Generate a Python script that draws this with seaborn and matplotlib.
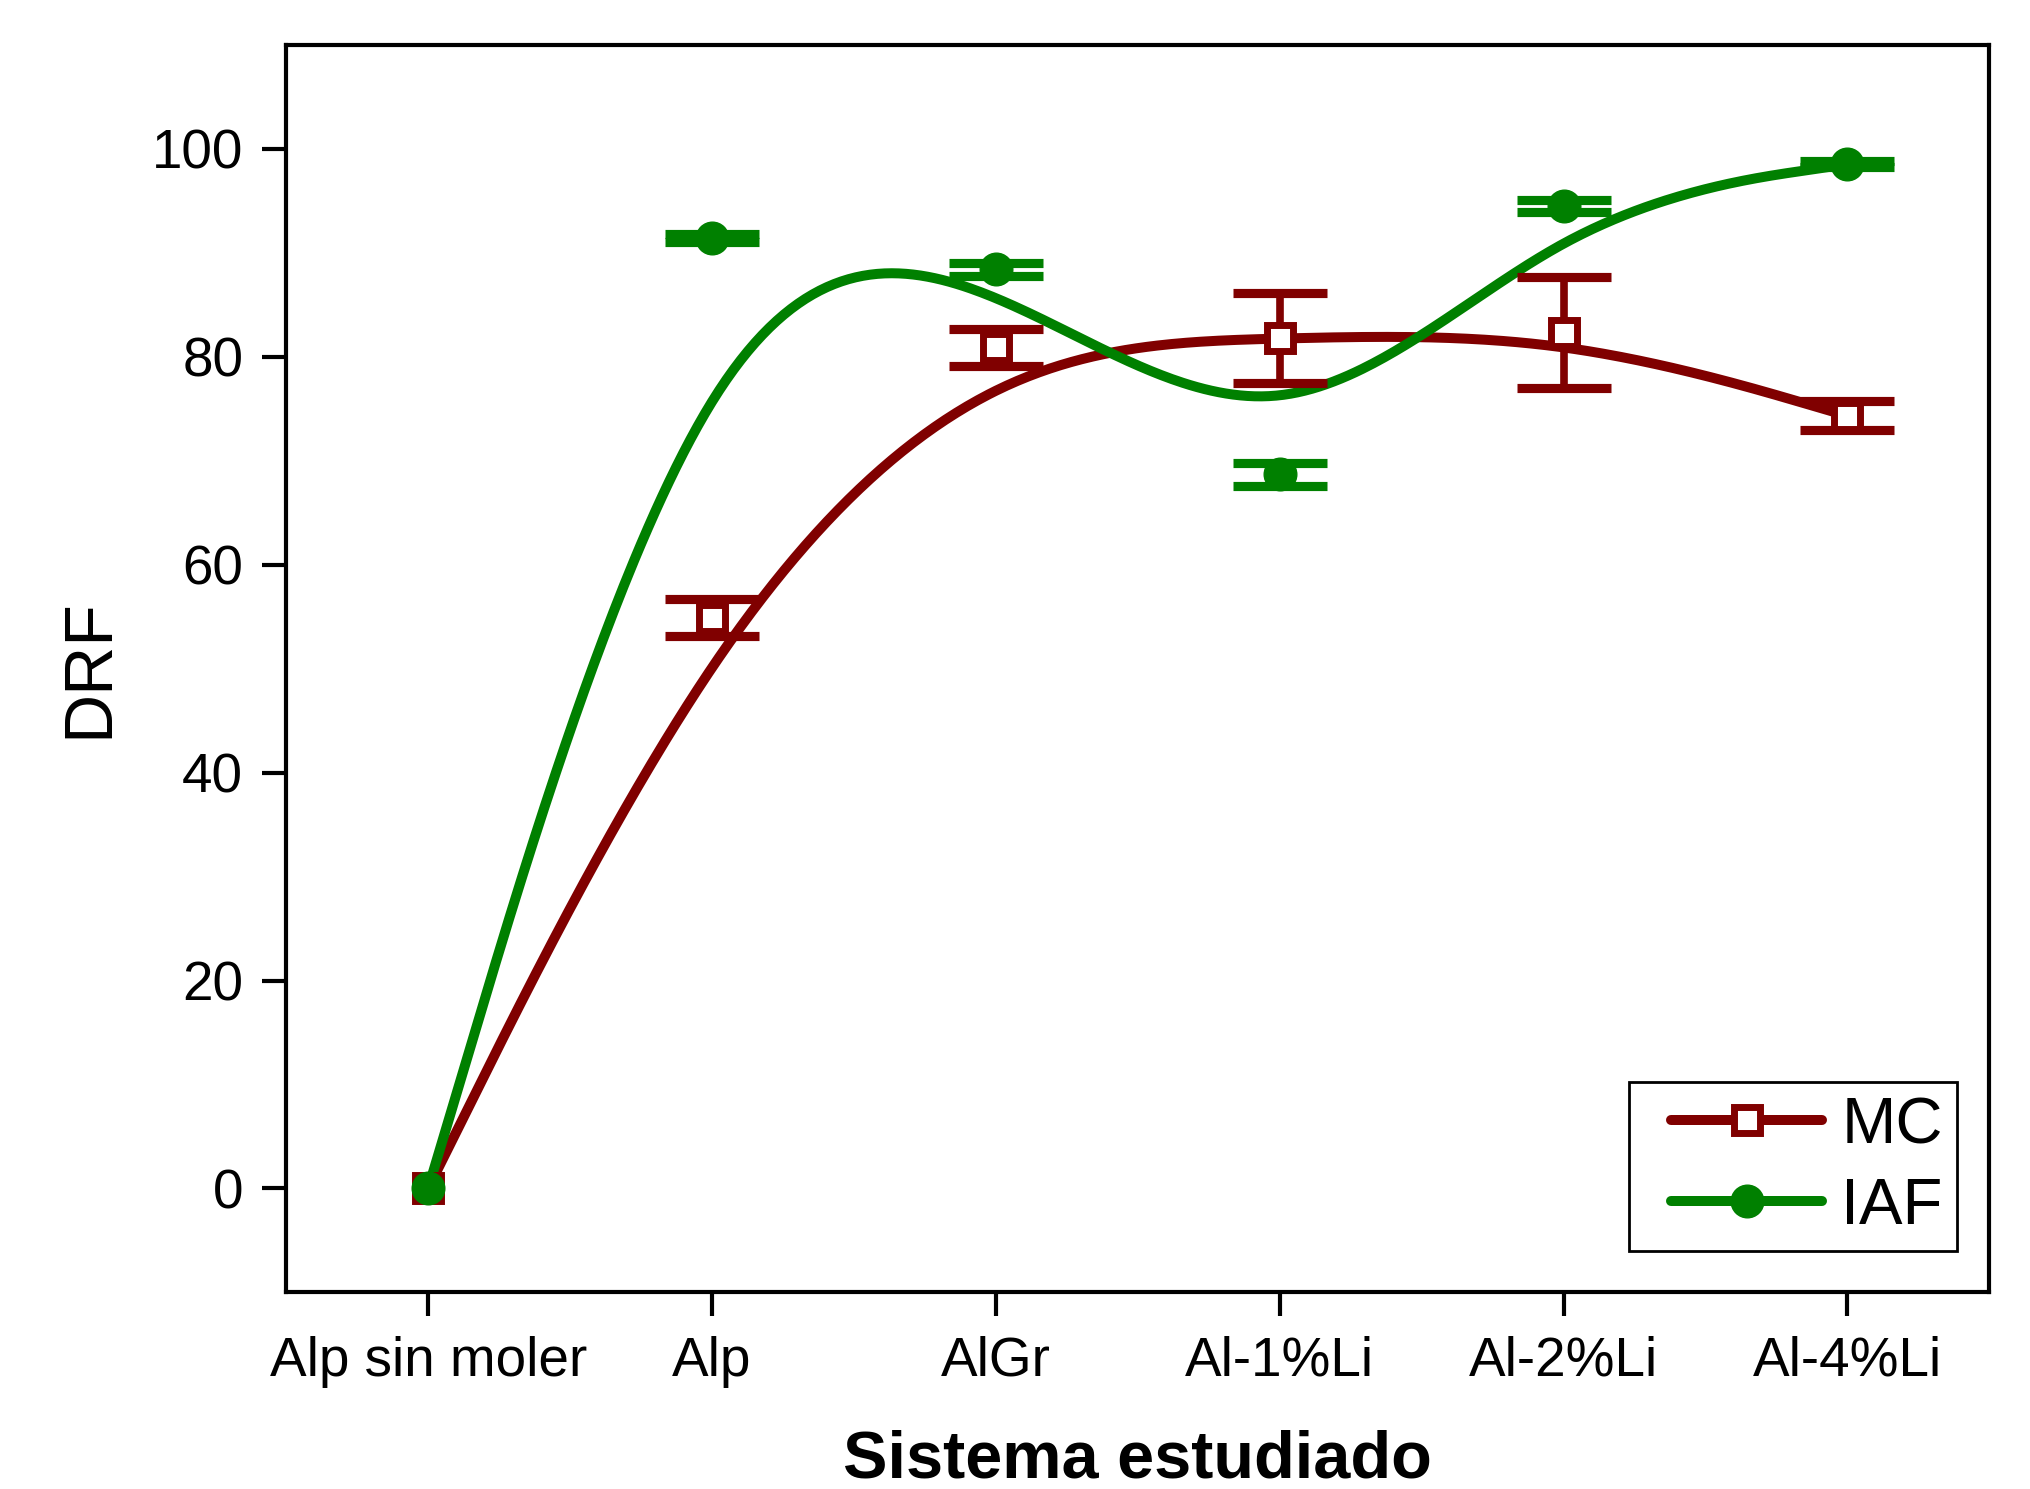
import numpy as np
import pandas as pd
import matplotlib
matplotlib.use("Agg")
import matplotlib.pyplot as plt
import seaborn as sns
from matplotlib.legend_handler import HandlerLine2D

categories = ["Alp sin moler", "Alp", "AlGr", "Al-1%Li", "Al-2%Li", "Al-4%Li"]
mc_values = [0.0, 54.9, 80.9, 81.8, 82.3, 74.3]
mc_errors = [0.0, 1.8, 1.8, 4.35, 5.35, 1.4]
iaf_values = [0.0, 91.4, 88.4, 68.7, 94.5, 98.5]
iaf_errors = [0.0, 0.4, 0.6, 1.1, 0.6, 0.3]
yticks = [0, 20, 40, 60, 80, 100]

RED = "#800000"
GREEN = "#008000"


def bspline(xc, yc, n_per_seg=80):
    """Uniform cubic B-spline with the data points as control points,
    end points tripled so the curve starts and ends on them (Origin B-Spline)."""
    P = np.column_stack([xc, yc]).astype(float)
    Q = np.vstack([P[0], P[0], P, P[-1], P[-1]])
    s = np.linspace(0, 1, n_per_seg)
    b0 = (1 - s) ** 3 / 6
    b1 = (3 * s ** 3 - 6 * s ** 2 + 4) / 6
    b2 = (-3 * s ** 3 + 3 * s ** 2 + 3 * s + 1) / 6
    b3 = s ** 3 / 6
    pts = []
    for j in range(len(Q) - 3):
        seg = (np.outer(b0, Q[j]) + np.outer(b1, Q[j + 1]) +
               np.outer(b2, Q[j + 2]) + np.outer(b3, Q[j + 3]))
        pts.append(seg if j == 0 else seg[1:])
    pts = np.vstack(pts)
    return pts[:, 0], pts[:, 1]


sns.set_theme(style="ticks")
plt.rcParams["font.family"] = ["Liberation Sans", "DejaVu Sans"]
plt.rcParams["text.color"] = "black"
plt.rcParams["axes.labelcolor"] = "black"

fig = plt.figure(figsize=(20.30, 14.89), dpi=100)
ax = fig.add_axes([0.141, 0.132, 0.839, 0.838])

x = np.arange(len(categories))

mx, my = bspline(x, mc_values)
gx, gy = bspline(x, iaf_values)
curves = pd.concat([
    pd.DataFrame({"x": mx, "y": my, "serie": "MC"}),
    pd.DataFrame({"x": gx, "y": gy, "serie": "IAF"}),
])
sns.lineplot(data=curves, x="x", y="y", hue="serie", palette={"MC": RED, "IAF": GREEN},
             sort=False, estimator=None, ax=ax, legend=False, zorder=2)
for ln in ax.lines:
    ln.set_linewidth(7.2)
    ln.set_solid_capstyle("round")

for vals, errs, col in [(mc_values, mc_errors, RED), (iaf_values, iaf_errors, GREEN)]:
    v = np.asarray(vals)
    e = np.asarray(errs)
    mask = e > 0
    ax.errorbar(x[mask], v[mask], yerr=e[mask], fmt="none", ecolor=col, elinewidth=5.5,
                capsize=34, capthick=6.6, zorder=3)

ax.plot(x, mc_values, linestyle="none", marker="s", markersize=19, markerfacecolor="white",
        markeredgecolor=RED, markeredgewidth=5, zorder=4)
ax.plot(x, iaf_values, linestyle="none", marker="o", markersize=23.5, markerfacecolor=GREEN,
        markeredgecolor=GREEN, zorder=5)

# legend handles
h1, = ax.plot([], [], color=RED, lw=7.2, marker="s", markersize=19, markerfacecolor="white",
              markeredgecolor=RED, markeredgewidth=5)
h2, = ax.plot([], [], color=GREEN, lw=7.2, marker="o", markersize=23.5, markerfacecolor=GREEN,
              markeredgecolor=GREEN)
leg = ax.legend([h1, h2], ["MC", "IAF"], loc="lower right", bbox_to_anchor=(0.981, 0.033),
                borderaxespad=0, fontsize=47, handlelength=2.73, frameon=True, fancybox=False,
                edgecolor="black", framealpha=1, borderpad=0.22, labelspacing=0.32,
                handletextpad=0.3,
                handler_map={h1: HandlerLine2D(xpad=0.43), h2: HandlerLine2D(xpad=0.43)})
leg.get_frame().set_linewidth(2)

ax.set_xlim(-0.5, 5.5)
ax.set_ylim(-10, 110)
ax.set_xticks(x)
ax.set_xticklabels(categories)
ax.set_yticks(yticks)
ax.tick_params(axis="both", direction="out", length=17, width=3, labelsize=39.5, colors="black")
ax.tick_params(axis="y", pad=14)
ax.tick_params(axis="x", pad=14)
for s in ax.spines.values():
    s.set_visible(True)
    s.set_linewidth(3)
    s.set_color("black")

ax.set_xlabel("Sistema estudiado", fontsize=48, fontweight="bold", labelpad=30, color="black")
ax.set_ylabel("DRF", fontsize=49, labelpad=22, color="black")

fig.savefig("out.png", dpi=100, facecolor="white")
